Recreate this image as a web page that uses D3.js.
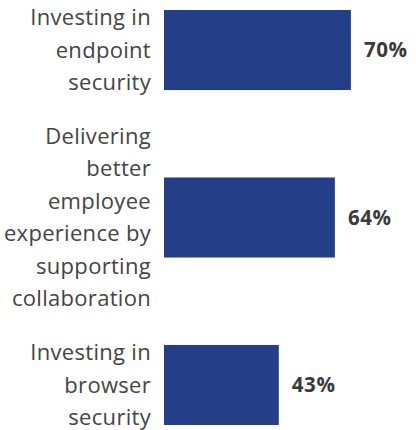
<!DOCTYPE html>
<html>
<head>
<meta charset="utf-8">
<script src="https://cdn.jsdelivr.net/npm/d3@7"></script>
<style>
  body { margin: 0; background: #fff; }
  text { font-family: "Open Sans", sans-serif; }
</style>
</head>
<body>
<svg id="chart" width="416" height="430"></svg>
<script>
const width = 416;
const height = 430;

// categories, one line per array element, as wrapped in the picture
const categories = [
    ["Investing in", "endpoint", "security"],
    ["Delivering", "better", "employee", "experience by", "supporting", "collaboration"],
    ["Investing in", "browser", "security"]
];
const values = [70, 64, 43];

const svg = d3.select("#chart");

const x = d3.scaleLinear()
    .domain([0, 100])
    .range([164, 431]);

const y = d3.scaleBand()
    .domain(d3.range(values.length))
    .range([10, 425])
    .paddingInner(0.522)
    .paddingOuter(0);

const lineH = 32.5;

// bars
svg.selectAll("rect.bar")
    .data(values)
    .enter()
    .append("rect")
    .attr("class", "bar")
    .attr("x", x(0))
    .attr("y", (d, i) => y(i))
    .attr("width", d => x(d) - x(0))
    .attr("height", y.bandwidth())
    .attr("fill", "#243f87");

// values next to the bars
svg.selectAll("text.value")
    .data(values)
    .enter()
    .append("text")
    .attr("class", "value")
    .attr("x", d => x(d) + 13)
    .attr("y", (d, i) => y(i) + y.bandwidth() / 2)
    .attr("dy", "0.35em")
    .attr("fill", "#3a3a3a")
    .attr("font-size", 20.5)
    .attr("font-weight", "bold")
    .attr("letter-spacing", 0.6)
    .text(d => d + "%");

// category labels, right aligned, centred on the bar
const labels = svg.selectAll("text.label")
    .data(categories)
    .enter()
    .append("text")
    .attr("class", "label")
    .attr("text-anchor", "end")
    .attr("fill", "#444")
    .attr("font-size", 22)
    .attr("letter-spacing", 0.3);

labels.each(function (lines, i) {
    const cy = y(i) + y.bandwidth() / 2;
    const top = cy - (lines.length - 1) * lineH / 2;
    d3.select(this).selectAll("tspan")
        .data(lines)
        .enter()
        .append("tspan")
        .attr("x", 151)
        .attr("y", (d, j) => top + j * lineH)
        .attr("dy", "0.35em")
        .text(d => d);
});
</script>
</body>
</html>
